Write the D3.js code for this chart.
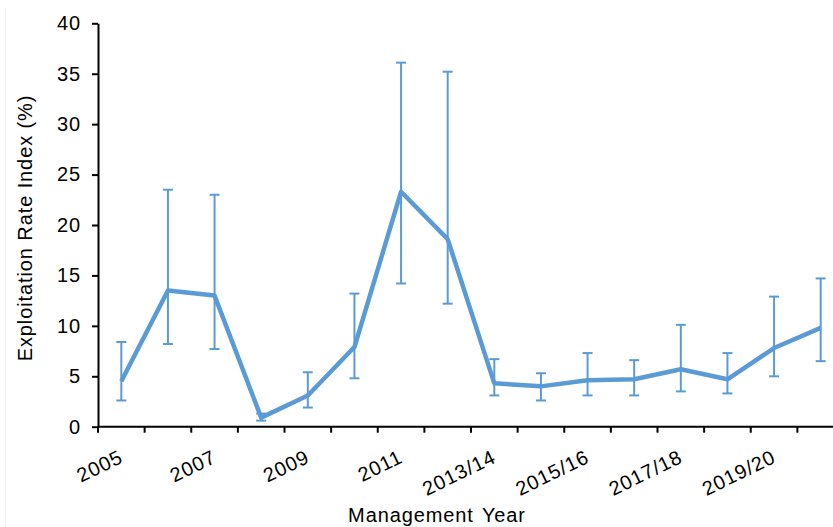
<!DOCTYPE html>
<html>
<head>
<meta charset="utf-8">
<script src="https://cdn.jsdelivr.net/npm/d3@7"></script>
<style>
  body { margin: 0; background: #fff; }
  text { font-family: Arial, "Liberation Sans", sans-serif; fill: #000; font-size: 20px; letter-spacing: 0.9px; }
</style>
</head>
<body>
<svg id="chart"></svg>
<script>
const years = ['2005', '2006', '2007', '2008', '2009', '2010', '2011', '2012',
  '2013/14', '2014/15', '2015/16', '2016/17', '2017/18', '2018/19', '2019/20', '2020/21'];
const rate  = [4.5, 13.5, 13.0, 0.9, 3.1, 7.9, 23.3, 18.6, 4.3, 4.0, 4.6, 4.7, 5.7, 4.7, 7.8, 9.8];
const upper = [8.4, 23.5, 23.0, 1.3, 5.4, 13.2, 36.1, 35.2, 6.7, 5.3, 7.3, 6.6, 10.1, 7.3, 12.9, 14.7];
const lower = [2.6, 8.2, 7.7, 0.6, 1.9, 4.8, 14.2, 12.2, 3.1, 2.6, 3.1, 3.1, 3.5, 3.3, 5.0, 6.5];
const yTicks = [0, 5, 10, 15, 20, 25, 30, 35, 40];

const w = 833, h = 527;
const margins = { top: 23, right: -11, bottom: 100, left: 98 };
const blue = '#5b9bd5';

const data = years.map((y, i) => ({ year: y, rate: rate[i], hi: upper[i], lo: lower[i] }));

const chart = d3.select('#chart')
  .attr('width', w)
  .attr('height', h);

// faint chart-area border
chart.append('line')
  .attr('x1', 5.5).attr('x2', 5.5)
  .attr('y1', 8).attr('y2', h)
  .style('stroke', '#efefef');

const xScale = d3.scaleBand()
  .domain(years)
  .range([margins.left, w - margins.right])
  .padding(0);

const yScale = d3.scaleLinear()
  .domain([0, 40])
  .range([h - margins.bottom - 0.3, margins.top + 0.3]);

const xc = d => xScale(d) + xScale.bandwidth() / 2;

// Y AXIS
const yAxisGroup = chart.append('g')
  .attr('transform', `translate(${margins.left}, 0)`)
  .call(d3.axisLeft(yScale).tickValues(yTicks).tickSize(6).tickPadding(11).tickSizeOuter(0));
yAxisGroup.selectAll('path, line').style('stroke', '#000').style('stroke-width', 2);
yAxisGroup.selectAll('text')
  .style('font-size', '20px')
  .style('font-family', 'Arial, "Liberation Sans", sans-serif');

// X AXIS
const y0 = yScale(0);
const xAxisGroup = chart.append('g')
  .attr('transform', `translate(0, ${y0})`);
xAxisGroup.append('line')
  .attr('x1', margins.left).attr('x2', w)
  .style('stroke', '#000').style('stroke-width', 2);
xAxisGroup.selectAll('.tick')
  .data(years.concat(['end']))
  .join('line')
  .attr('class', 'tick')
  .attr('x1', d => d === 'end' ? xScale.range()[1] : xScale(d))
  .attr('x2', d => d === 'end' ? xScale.range()[1] : xScale(d))
  .attr('y1', 0).attr('y2', 6)
  .style('stroke', '#000').style('stroke-width', 2);
xAxisGroup.selectAll('.xlabel')
  .data(years.filter((d, i) => i % 2 === 0))
  .join('text')
  .attr('class', 'xlabel')
  .attr('transform', d => `translate(${xc(d) + 3}, 35) rotate(-26)`)
  .attr('text-anchor', 'end')
  .text(d => d);

// AXIS LABELS
chart.append('text')
  .attr('transform', `translate(437, 522)`)
  .attr('text-anchor', 'middle')
  .style('word-spacing', '2px')
  .text('Management Year');

chart.append('text')
  .attr('transform', `translate(32, 228) rotate(-90)`)
  .attr('text-anchor', 'middle')
  .text('Exploitation Rate Index (%)');

// ERROR BARS
const bars = chart.append('g')
  .style('stroke', blue)
  .style('stroke-width', 2);
bars.selectAll('.err')
  .data(data)
  .join('line')
  .attr('class', 'err')
  .attr('x1', d => xc(d.year)).attr('x2', d => xc(d.year))
  .attr('y1', d => yScale(d.hi)).attr('y2', d => yScale(d.lo));
bars.selectAll('.capHi')
  .data(data)
  .join('line')
  .attr('class', 'capHi')
  .attr('x1', d => xc(d.year) - 5).attr('x2', d => xc(d.year) + 5)
  .attr('y1', d => yScale(d.hi)).attr('y2', d => yScale(d.hi));
bars.selectAll('.capLo')
  .data(data)
  .join('line')
  .attr('class', 'capLo')
  .attr('x1', d => xc(d.year) - 5).attr('x2', d => xc(d.year) + 5)
  .attr('y1', d => yScale(d.lo)).attr('y2', d => yScale(d.lo));

// LINE
const line = d3.line()
  .x(d => xc(d.year))
  .y(d => yScale(d.rate));
chart.append('path')
  .datum(data)
  .attr('d', line)
  .style('fill', 'none')
  .style('stroke', blue)
  .style('stroke-width', 4.5)
  .style('stroke-linejoin', 'round');
</script>
</body>
</html>
